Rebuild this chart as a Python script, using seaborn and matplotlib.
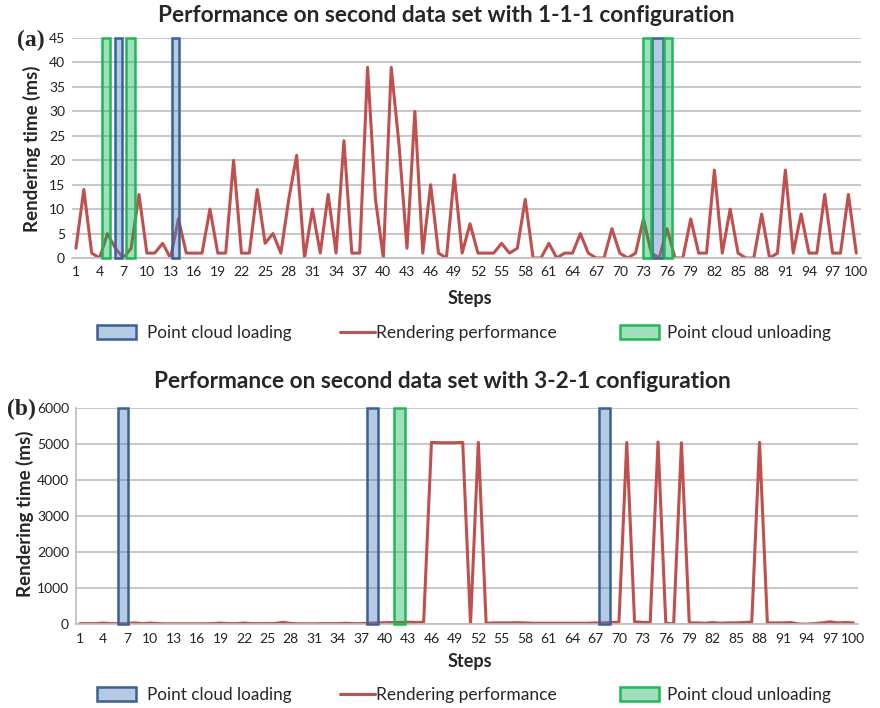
import pandas as pd
import seaborn as sns
import matplotlib.pyplot as plt
from matplotlib.patches import Patch
from matplotlib.lines import Line2D

sns.set_theme(style="white")
plt.rcParams['font.family'] = ['Lato', 'DejaVu Sans']

# data
steps = list(range(1, 101))
tick_steps = list(range(1, 101, 3))

# (a) 1-1-1 configuration, rendering time in ms
top_ms = [2, 14, 1, 0, 5, 2, 0, 2, 13, 1,
          1, 3, 0, 8, 1, 1, 1, 10, 1, 1,
          20, 1, 1, 14, 3, 5, 1, 12, 21, 0,
          10, 1, 13, 1, 24, 1, 1, 39, 12, 0,
          39, 23, 2, 30, 1, 15, 1, 0, 17, 1,
          7, 1, 1, 1, 3, 1, 2, 12, 0, 0,
          3, 0, 1, 1, 5, 1, 0, 0, 6, 1,
          0, 1, 8, 1, 0, 6, 0, 0, 8, 1,
          1, 18, 1, 10, 1, 0, 0, 9, 0, 1,
          18, 1, 9, 1, 1, 13, 1, 1, 13, 1]
top_loading = [6.4, 13.6, 74.8]
top_unloading = [4.8, 7.95, 73.45, 76.1]

# (b) 3-2-1 configuration, rendering time in ms
bottom_ms = [20, 20, 20, 35, 20, 20, 20, 40, 20, 35,
             20, 15, 15, 15, 15, 15, 15, 20, 35, 20,
             20, 35, 20, 20, 20, 25, 55, 25, 15, 15,
             15, 20, 20, 20, 30, 20, 20, 30, 40, 45,
             50, 50, 60, 50, 60, 5040, 5030, 5030, 5030, 5040,
             0, 5040, 30, 40, 40, 40, 45, 40, 30, 30,
             30, 30, 30, 30, 30, 30, 40, 40, 50, 60,
             5040, 70, 55, 50, 5050, 30, 10, 5030, 40, 40,
             30, 50, 30, 40, 40, 50, 60, 5040, 40, 40,
             40, 50, 10, 5, 20, 40, 70, 40, 50, 40]
bottom_loading = [6.55, 38.45, 68.15]
bottom_unloading = [41.9]

RED = '#C0504D'
BLUE_EDGE = '#3B6096'
BLUE_FILL = (0.31, 0.51, 0.74, 0.42)
GREEN_EDGE = '#1DB954'
GREEN_FILL = (0.0, 0.69, 0.31, 0.38)
GRID = '#BEBEBE'

fig = plt.figure(figsize=(8.8, 7.08), dpi=100)


def draw_panel(rect, values, loading, unloading, ymax, ystep, w_load, w_unload, left_spine):
    ax = fig.add_axes(rect)
    df = pd.DataFrame({'Step': steps, 'ms': values})
    sns.lineplot(data=df, x='Step', y='ms', color=RED, lw=2.2, ax=ax, zorder=2)
    ax.bar(loading, ymax, width=w_load, bottom=0, facecolor=BLUE_FILL,
           edgecolor=BLUE_EDGE, lw=1.8, zorder=3, clip_on=False)
    ax.bar(unloading, ymax, width=w_unload, bottom=0, facecolor=GREEN_FILL,
           edgecolor=GREEN_EDGE, lw=1.8, zorder=3, clip_on=False)
    ax.set_xlim(0.5, 100.6)
    ax.set_ylim(0, ymax)
    ax.set_xticks(tick_steps)
    ax.set_yticks(range(0, ymax + 1, ystep))
    ax.yaxis.grid(True, color=GRID, lw=1.2, zorder=0)
    ax.set_axisbelow(True)
    ax.set_xlabel('')
    ax.set_ylabel('')
    for s in ['top', 'right']:
        ax.spines[s].set_visible(False)
    ax.spines['left'].set_visible(left_spine)
    ax.spines['left'].set_color(GRID)
    ax.spines['bottom'].set_color(GRID)
    ax.spines['bottom'].set_linewidth(1.2)
    ax.tick_params(axis='x', length=0, labelsize=10, pad=6, colors='#222222')
    ax.tick_params(axis='y', length=0, labelsize=10, pad=5, colors='#222222')
    return ax


draw_panel([72 / 880, 0.6356, 789 / 880, 0.3107], top_ms, top_loading, top_unloading,
           45, 5, [0.85, 0.9, 1.4], [1.05, 1.2, 0.95, 1.0], False)
draw_panel([76 / 880, 0.1182, 782 / 880, 0.3059], bottom_ms, bottom_loading, bottom_unloading,
           6000, 1000, 1.3, 1.4, True)

# titles, panel letters, axis labels
fig.text(446 / 880, 1 - 15 / 708, 'Performance on second data set with 1-1-1 configuration',
         ha='center', va='center', fontsize=16.3, fontweight='bold')
fig.text(442 / 880, 1 - 381 / 708, 'Performance on second data set with 3-2-1 configuration',
         ha='center', va='center', fontsize=16.3, fontweight='bold')
fig.text(31 / 880, 1 - 40 / 708, '(a)', family='Liberation Serif', fontweight='bold',
         fontsize=17, ha='center', va='center')
fig.text(21 / 880, 1 - 409 / 708, '(b)', family='Liberation Serif', fontweight='bold',
         fontsize=17, ha='center', va='center')
fig.text(32 / 880, 1 - 149 / 708, 'Rendering time (ms)', rotation=90, ha='center',
         va='center', fontsize=13.5, fontweight='bold')
fig.text(25 / 880, 1 - 514 / 708, 'Rendering time (ms)', rotation=90, ha='center',
         va='center', fontsize=13.5, fontweight='bold')
fig.text(470 / 880, 1 - 298 / 708, 'Steps', ha='center', va='center', fontsize=13, fontweight='bold')
fig.text(470 / 880, 1 - 662 / 708, 'Steps', ha='center', va='center', fontsize=13, fontweight='bold')

# legends, one per entry so they sit where the original has them
load_h = Patch(facecolor=BLUE_FILL, edgecolor=BLUE_EDGE, lw=1.8)
line_h = Line2D([], [], color=RED, lw=2.2)
unload_h = Patch(facecolor=GREEN_FILL, edgecolor=GREEN_EDGE, lw=1.8)
entries = [(load_h, 'Point cloud loading', 97, 0.65, 2.3, 12.3),
           (line_h, 'Rendering performance', 340, 0.05, 2.0, 12.5),
           (unload_h, 'Point cloud unloading', 620, 0.45, 2.3, 12.3)]
for y in [333, 695]:
    for h, lab, x, pad, hl, fs in entries:
        fig.legend([h], [lab], loc='center left', bbox_to_anchor=(x / 880, 1 - y / 708),
                   frameon=False, fontsize=fs, handlelength=hl, handleheight=0.9,
                   handletextpad=pad, borderpad=0, borderaxespad=0)

fig.savefig('out.png', dpi=100)
